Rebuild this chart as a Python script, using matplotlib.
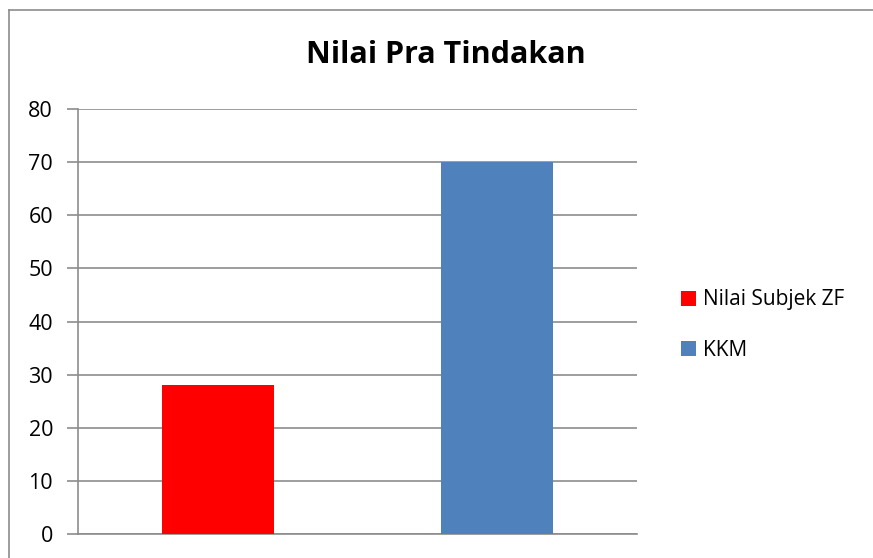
#chart of pre-action scores vs KKM
import matplotlib
matplotlib.use("Agg")
import matplotlib.pyplot as plt
from matplotlib.lines import Line2D

#data
series_names = ["Nilai Subjek ZF", "KKM"]
values = [28, 70]
colors = ["#ff0000", "#4f81bd"]
y_ticks = [0, 10, 20, 30, 40, 50, 60, 70, 80]

plt.rcParams['font.family'] = ['Open Sans', 'DejaVu Sans']
grid_col = "#8c8c8c"

fig = plt.figure(figsize=(8.73, 5.58), dpi=100)
ax = fig.add_axes([78/873, 1-534/558, (637-78)/873, (534-109)/558])

#bars, one per series
for i in range(len(values)):
    ax.bar(i, values[i], width=0.4, color=colors[i], label=series_names[i], zorder=3)

ax.set_xlim(-0.5, 1.5)
ax.set_ylim(0, 80)
ax.set_yticks(y_ticks)
ax.set_xticks([])
ax.tick_params(axis='y', labelsize=15.5, length=8, width=1.2, color=grid_col, pad=10)
ax.yaxis.grid(True, color=grid_col, linewidth=1.2, zorder=0)

for s in ["top", "right"]:
    ax.spines[s].set_visible(False)
ax.spines["left"].set_color(grid_col)
ax.spines["left"].set_linewidth(1.2)
ax.spines["bottom"].set_color(grid_col)
ax.spines["bottom"].set_linewidth(1.2)

fig.text(446/873, 1-55/558, "Nilai Pra Tindakan", ha='center', va='center',
         fontsize=22, fontweight='bold')

leg = fig.legend(loc='center left', bbox_to_anchor=(662/873, 1-325/558), frameon=False,
                 fontsize=15, handlelength=0.75, handleheight=0.75, handletextpad=0.3,
                 labelspacing=1.4)

#chart border (left and top edges only show)
fig.add_artist(Line2D([9/873, 9/873], [0, 1-10/558], color=grid_col, linewidth=1.2))
fig.add_artist(Line2D([9/873, 1], [1-10/558, 1-10/558], color=grid_col, linewidth=1.2))

fig.savefig("out.png", dpi=100)
